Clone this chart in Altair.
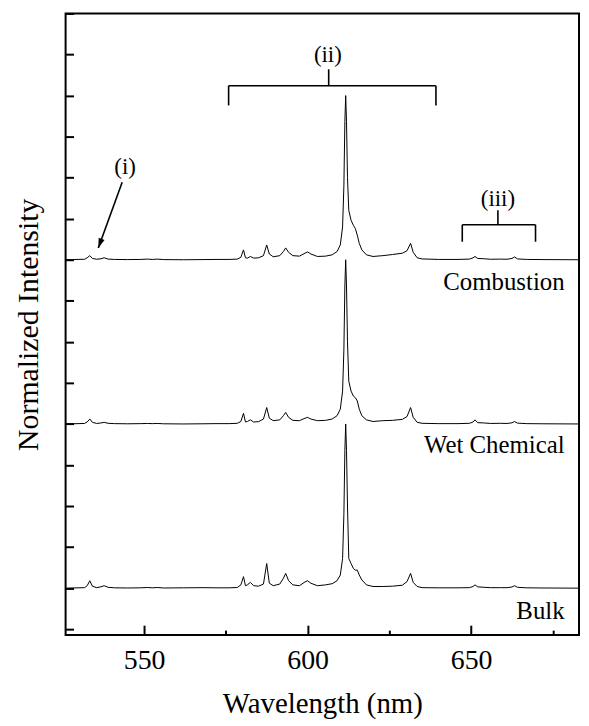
import altair as alt
import pandas as pd

# ---- data ----
wavelength = [526, 531.8, 532.6, 533.4, 534.2, 535.5, 536.8, 537.8, 539, 541,
              545, 549, 551, 552.5, 554, 556, 562, 568, 572, 576,
              578.5, 579.6, 580.4, 581.0, 581.6, 582.5, 583.5, 585, 586.5, 587.5,
              588.3, 589.5, 591.5, 592.6, 593.3, 594.2, 595.5, 597.5, 599.2, 600.0,
              601.0, 603, 605.5, 607.5, 609, 610, 610.7, 611.1, 611.4, 611.65,
              611.9, 612.2, 612.6, 613.3, 614.0, 614.6, 615.2, 615.8, 616.6, 618,
              620, 623, 626, 629, 630.4, 631.5, 632.3, 633.5, 635, 640,
              646, 649.5, 650.6, 651.2, 652, 654, 656, 659, 661, 662.5,
              663.3, 664.2, 667, 672, 683]

combustion = [0, 0.003, 0.012, 0.025, 0.008, 0.003, 0.006, 0.012, 0.004, 0.002,
              0.001, 0.002, 0.004, 0.002, 0.004, 0.001, 0.0, 0.001, 0.002, 0.002,
              0.004, 0.015, 0.06, 0.012, 0.01, 0.02, 0.01, 0.012, 0.025, 0.09,
              0.035, 0.018, 0.025, 0.05, 0.072, 0.045, 0.025, 0.022, 0.04, 0.048,
              0.035, 0.02, 0.022, 0.03, 0.05, 0.09, 0.2, 0.45, 0.84, 1.0,
              0.84, 0.5, 0.3, 0.24, 0.21, 0.19, 0.15, 0.1, 0.06, 0.03,
              0.02, 0.025, 0.032, 0.04, 0.055, 0.10, 0.045, 0.012, 0.005, 0.002,
              0.002, 0.004, 0.012, 0.02, 0.008, 0.006, 0.003, 0.004, 0.003, 0.008,
              0.017, 0.005, 0.002, 0.001, 0.0]

wet_chemical = [0, 0.003, 0.012, 0.03, 0.01, 0.003, 0.006, 0.01, 0.004, 0.002,
                0.001, 0.002, 0.003, 0.002, 0.003, 0.001, 0.0, 0.001, 0.002, 0.002,
                0.004, 0.015, 0.065, 0.012, 0.015, 0.025, 0.012, 0.014, 0.03, 0.10,
                0.035, 0.02, 0.025, 0.05, 0.07, 0.04, 0.022, 0.02, 0.035, 0.04,
                0.03, 0.02, 0.022, 0.03, 0.05, 0.09, 0.2, 0.45, 0.84, 1.0,
                0.84, 0.5, 0.26, 0.2, 0.17, 0.16, 0.14, 0.09, 0.05, 0.025,
                0.015, 0.02, 0.022, 0.028, 0.045, 0.1, 0.04, 0.01, 0.004, 0.002,
                0.002, 0.004, 0.012, 0.025, 0.008, 0.006, 0.003, 0.004, 0.003, 0.007,
                0.015, 0.005, 0.002, 0.001, 0.0]

bulk = [0, 0.003, 0.015, 0.045, 0.012, 0.003, 0.008, 0.015, 0.005, 0.002,
        0.001, 0.002, 0.004, 0.002, 0.004, 0.001, 0.002, 0.003, 0.002, 0.002,
        0.004, 0.02, 0.07, 0.015, 0.02, 0.035, 0.015, 0.012, 0.025, 0.15,
        0.03, 0.015, 0.025, 0.06, 0.09, 0.045, 0.02, 0.015, 0.038, 0.045,
        0.03, 0.015, 0.02, 0.027, 0.045, 0.08, 0.18, 0.45, 0.84, 1.0,
        0.84, 0.5, 0.18, 0.15, 0.12, 0.11, 0.11, 0.08, 0.05, 0.02,
        0.01, 0.01, 0.012, 0.018, 0.04, 0.09, 0.035, 0.01, 0.003, 0.002,
        0.002, 0.003, 0.01, 0.02, 0.008, 0.005, 0.003, 0.003, 0.003, 0.007,
        0.015, 0.005, 0.002, 0.001, 0.0]

series_names = ["Combustion", "Wet Chemical", "Bulk"]
series_offsets = [2.25, 1.25, 0.25]

x_major_ticks = [550, 600, 650]
x_minor_ticks = [575, 625, 675]
y_ticks = [0, 0.25, 0.5, 0.75, 1.0, 1.25, 1.5, 1.75, 2.0, 2.25, 2.5, 2.75,
           3.0, 3.25, 3.5, 3.75]

label_x = [678.6, 678.6, 678.6]
label_y = [2.067, 1.073, 0.06]

annot_text = ["(i)", "(ii)", "(iii)"]
annot_x = [544.2, 606.2, 658.2]
annot_y = [2.812, 3.496, 2.618]

seg_x1 = [575.85, 575.85, 639.25, 606.45, 647.3, 647.3, 669.7, 658.2, 543.3]
seg_x2 = [639.25, 575.85, 639.25, 606.45, 669.7, 647.3, 669.7, 658.2, 536.0]
seg_y1 = [3.31, 3.31, 3.31, 3.31, 2.463, 2.463, 2.463, 2.463, 2.722]
seg_y2 = [3.31, 3.19, 3.19, 3.41, 2.463, 2.36, 2.36, 2.552, 2.322]

arrow_x = [536.0]
arrow_y = [2.322]

# ---- tables ----
rows = []
for name, off, vals in zip(series_names, series_offsets,
                           [combustion, wet_chemical, bulk]):
    for w, v in zip(wavelength, vals):
        rows.append({"wl": w, "val": v + off, "series": name})
spec_df = pd.DataFrame(rows)

labels_df = pd.DataFrame({"x": label_x, "y": label_y, "t": series_names})
annot_df = pd.DataFrame({"x": annot_x, "y": annot_y, "t": annot_text})
seg_df = pd.DataFrame({"x": seg_x1, "x2": seg_x2, "y": seg_y1, "y2": seg_y2})
arrow_df = pd.DataFrame({"x": arrow_x, "y": arrow_y})

W, H = 517, 626
FONT = "Liberation Serif"
xs = alt.Scale(domain=[526, 683], nice=False, zero=False)
ys = alt.Scale(domain=[-0.036, 3.75], nice=False, zero=False)

lines = alt.Chart(spec_df).mark_line(color="black", strokeWidth=1.0).encode(
    x=alt.X("wl:Q", scale=xs,
            axis=alt.Axis(orient="bottom", values=x_major_ticks, format="d",
                          ticks=False, domain=False, grid=False,
                          labelFont=FONT, labelFontSize=28, labelColor="black",
                          labelPadding=12, title="Wavelength (nm)",
                          titleFont=FONT, titleFontSize=29,
                          titleFontWeight="normal", titleColor="black",
                          titlePadding=15)),
    y=alt.Y("val:Q", scale=ys,
            axis=alt.Axis(orient="left", ticks=False, labels=False,
                          domain=False, grid=False,
                          title="Normalized Intensity", titleFont=FONT,
                          titleFontSize=30, titleFontWeight="normal",
                          titleColor="black", titlePadding=22)),
    detail="series:N",
)

major = alt.Chart(pd.DataFrame({"t": x_major_ticks})).mark_point(opacity=0).encode(
    x=alt.X("t:Q", scale=xs,
            axis=alt.Axis(orient="top", offset=-H, values=x_major_ticks,
                          tickSize=10, tickWidth=2, tickColor="black",
                          labels=False, domain=False, grid=False, title=""))
)
minor = alt.Chart(pd.DataFrame({"t": x_minor_ticks})).mark_point(opacity=0).encode(
    x=alt.X("t:Q", scale=xs,
            axis=alt.Axis(orient="top", offset=-H, values=x_minor_ticks,
                          tickSize=5, tickWidth=2, tickColor="black",
                          labels=False, domain=False, grid=False, title=""))
)
yt = alt.Chart(pd.DataFrame({"v": y_ticks})).mark_point(opacity=0).encode(
    y=alt.Y("v:Q", scale=ys,
            axis=alt.Axis(orient="right", offset=-W, values=y_ticks,
                          tickSize=8, tickWidth=2, tickColor="black",
                          labels=False, domain=False, grid=False, title=""))
)

labels = alt.Chart(labels_df).mark_text(
    align="right", baseline="alphabetic", font=FONT, fontSize=25, color="black"
).encode(
    x=alt.X("x:Q", scale=xs, axis=None),
    y=alt.Y("y:Q", scale=ys, axis=None),
    text="t:N",
)

annots = alt.Chart(annot_df).mark_text(
    align="center", baseline="middle", font=FONT, fontSize=23, color="black"
).encode(
    x=alt.X("x:Q", scale=xs, axis=None),
    y=alt.Y("y:Q", scale=ys, axis=None),
    text="t:N",
)

segs = alt.Chart(seg_df).mark_rule(color="black", strokeWidth=1.6).encode(
    x=alt.X("x:Q", scale=xs, axis=None),
    x2="x2:Q",
    y=alt.Y("y:Q", scale=ys, axis=None),
    y2="y2:Q",
)

arrow = alt.Chart(arrow_df).mark_point(
    shape="M0,0L0.32,1L-0.32,1Z", filled=True, color="black", opacity=1,
    size=380, angle=200
).encode(
    x=alt.X("x:Q", scale=xs, axis=None),
    y=alt.Y("y:Q", scale=ys, axis=None),
)

chart = alt.layer(lines, major, minor, yt, segs, arrow, labels, annots).resolve_axis(
    x="independent", y="independent"
).properties(
    width=W, height=H,
    autosize=alt.AutoSizeParams(type="none"),
    padding={"left": 58, "top": 3, "right": 2, "bottom": 86},
).configure_view(stroke="black", strokeWidth=2)

chart.save("out.html", embed_options={"renderer": "svg", "actions": False})
